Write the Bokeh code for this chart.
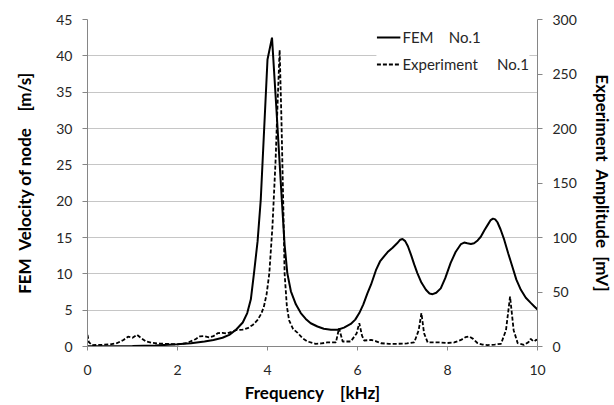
from bokeh.plotting import figure
from bokeh.models import Range1d, LinearAxis, FixedTicker, Legend, LegendItem
from bokeh.embed import file_html
from bokeh.resources import INLINE

# FEM: frequency [kHz] vs velocity of node [m/s]
fem_freq = [0, 0.5, 1.0, 1.5, 2.0, 2.3, 2.6, 2.8, 3.0, 3.15, 3.3, 3.45, 3.55, 3.63,
            3.7, 3.78, 3.85, 4.0, 4.1, 4.2, 4.32, 4.38, 4.44, 4.52, 4.63, 4.74,
            4.85, 4.96, 5.11, 5.25, 5.41, 5.56, 5.7, 5.85, 5.95, 6.04, 6.13, 6.22,
            6.3, 6.41, 6.5, 6.59, 6.67, 6.78, 6.88, 6.95, 7.0, 7.06, 7.12, 7.19,
            7.26, 7.33, 7.42, 7.52, 7.6, 7.67, 7.75, 7.85, 7.95, 8.07, 8.18, 8.3,
            8.37, 8.44, 8.52, 8.59, 8.67, 8.74, 8.82, 8.89, 8.96, 9.01, 9.06, 9.11,
            9.18, 9.26, 9.35, 9.44, 9.53, 9.63, 9.74, 9.85, 9.93, 10.0]
fem_vel = [0.05, 0.05, 0.08, 0.15, 0.3, 0.45, 0.7, 0.9, 1.2, 1.6, 2.3, 3.3, 4.6, 6.5,
           10.1, 14.5, 20.2, 39.5, 42.5, 32.5, 20.0, 14.0, 10.1, 7.6, 5.8, 4.6,
           3.8, 3.2, 2.75, 2.45, 2.3, 2.3, 2.6, 3.1, 3.7, 4.6, 5.8, 7.3,
           8.5, 10.5, 11.7, 12.4, 13.0, 13.6, 14.2, 14.7, 14.8, 14.5, 13.8, 12.6,
           11.3, 10.1, 8.8, 7.8, 7.3, 7.2, 7.4, 8.0, 9.4, 11.5, 13.0, 14.1,
           14.3, 14.2, 14.1, 14.2, 14.6, 15.1, 16.0, 16.7, 17.4, 17.6, 17.5, 17.1,
           16.1, 14.7, 12.8, 11.0, 9.2, 7.8, 6.7, 6.0, 5.5, 5.1]

# Experiment: frequency [kHz] vs amplitude [mV]
exp_freq = [0, 0.03, 0.1, 0.3, 0.5, 0.65, 0.8, 0.9, 1.0, 1.1, 1.2, 1.3, 1.45, 1.6,
            1.8, 2.0, 2.2, 2.4, 2.5, 2.6, 2.7, 2.8, 2.9, 3.0, 3.1, 3.3, 3.45, 3.56,
            3.68, 3.78, 3.86, 3.92, 3.98, 4.04, 4.11, 4.18, 4.23, 4.27, 4.31, 4.35,
            4.38, 4.43, 4.48, 4.57, 4.67, 4.78, 4.89, 5.07, 5.2, 5.33, 5.45, 5.52,
            5.59, 5.67, 5.85, 5.98, 6.04, 6.1, 6.15, 6.3, 6.4, 6.52, 6.7, 6.89,
            7.1, 7.26, 7.36, 7.42, 7.48, 7.56, 7.7, 7.85, 8.0, 8.15, 8.3, 8.4,
            8.48, 8.57, 8.67, 8.78, 8.89, 9.05, 9.19, 9.30, 9.39, 9.47, 9.56,
            9.70, 9.8, 9.85, 9.9, 9.93, 9.98, 10.0]
exp_amp = [10.7, 4, 1.3, 1.5, 2, 3, 6, 9, 8, 10.7, 7.5, 4.6, 3.3, 2.7,
           2.3, 2, 3, 6.7, 9.3, 9.5, 8.4, 9.5, 12.3, 12.5, 12, 15, 15.5, 16.8,
           20, 24.4, 30, 36.6, 48, 67, 110, 171, 230, 272, 208, 131,
           67, 37, 24, 16, 12.5, 7.5, 4.6, 2.5, 2.8, 3.7, 3.7, 3.7,
           16.8, 4.6, 4.6, 12, 21.4, 10, 5.5, 6, 5, 3, 2.5, 2.5,
           2.8, 3.7, 15, 30.6, 12, 3.7, 3.7, 3.7, 3.2, 3.7, 6, 8.5,
           9.2, 7, 3, 1.8, 1.3, 1.8, 2.5, 15, 45.8, 15, 3,
           1.5, 4, 7, 5, 4.6, 6.5, 3.7]

x_ticks = [0, 2, 4, 6, 8, 10]
left_ticks = [0, 5, 10, 15, 20, 25, 30, 35, 40, 45]
right_ticks = [0, 50, 100, 150, 200, 250, 300]

FONT = "Lato"
AXIS_GRAY = "#868686"
GRID_GRAY = "#c6c6c6"
TICK_TXT = "#262626"
NB = "\u00a0"

p = figure(frame_width=450, frame_height=327,
           min_border_left=87, min_border_right=75, min_border_top=19, min_border_bottom=57,
           x_range=Range1d(0, 10), y_range=Range1d(0, 45),
           output_backend="svg", toolbar_location=None)
p.extra_y_ranges = {"exp": Range1d(0, 300)}
p.outline_line_color = None
p.background_fill_color = "white"
p.border_fill_color = "white"

p.xgrid.visible = False
p.ygrid.grid_line_color = GRID_GRAY
p.ygrid.grid_line_width = 1
p.ygrid.ticker = FixedTicker(ticks=left_ticks)

def style_axis(ax, label):
    ax.axis_label = label
    ax.axis_label_text_font = FONT
    ax.axis_label_text_font_style = "bold"
    ax.axis_label_text_font_size = "17px"
    ax.axis_label_text_color = "black"
    ax.major_label_text_font = FONT
    ax.major_label_text_font_size = "14px"
    ax.major_label_text_color = TICK_TXT
    ax.axis_line_color = AXIS_GRAY
    ax.major_tick_line_color = AXIS_GRAY
    ax.major_tick_out = 5
    ax.major_tick_in = 0
    ax.minor_tick_line_color = None

p.xaxis.ticker = FixedTicker(ticks=x_ticks)
style_axis(p.xaxis[0], "Frequency" + NB * 4 + "[kHz]")
p.xaxis.major_label_standoff = 14
p.xaxis.axis_label_standoff = 4
p.xaxis.major_tick_out = 4

p.yaxis.ticker = FixedTicker(ticks=left_ticks)
style_axis(p.yaxis[0], "FEM" + NB * 2 + "Velocity of node" + NB * 4 + "[m/s]")
p.yaxis.major_label_standoff = 10
p.yaxis.axis_label_standoff = 18

rax = LinearAxis(y_range_name="exp", ticker=FixedTicker(ticks=right_ticks))
style_axis(rax, "Experiment" + NB * 2 + "Amplitude" + NB * 2 + "[mV]")
rax.major_label_standoff = 10
rax.axis_label_standoff = 12
p.add_layout(rax, "right")

r_fem = p.line(fem_freq, fem_vel, line_color="black", line_width=2)
r_exp = p.line(exp_freq, exp_amp, y_range_name="exp", line_color="black",
               line_width=1.8, line_dash="4 2")

legend = Legend(items=[LegendItem(label="FEM" + NB * 4 + "No.1", renderers=[r_fem]),
                       LegendItem(label="Experiment" + NB * 5 + "No.1", renderers=[r_exp])],
                location="top_right", label_text_font=FONT, label_text_font_size="15px",
                label_text_color=TICK_TXT, border_line_color=None,
                background_fill_color="white", background_fill_alpha=1.0,
                glyph_width=24, glyph_height=20, label_height=20, label_standoff=2,
                spacing=7, padding=7, margin=8)
p.add_layout(legend)

open("out.html", "w").write(file_html(p, INLINE))
